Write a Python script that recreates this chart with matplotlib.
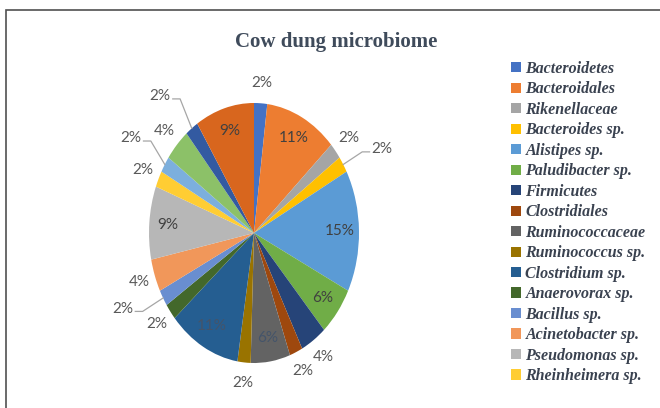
import numpy as np
import matplotlib
matplotlib.use("Agg")
import matplotlib.pyplot as plt
from matplotlib.patches import Patch, Rectangle

title = "Cow dung microbiome"

# legend names (the chart only lists the first 16 slices)
taxa = ["Bacteroidetes", "Bacteroidales", "Rikenellaceae", "Bacteroides sp.",
        "Alistipes sp.", "Paludibacter sp.", "Firmicutes", "Clostridiales",
        "Ruminococcaceae", "Ruminococcus sp.", "Clostridium sp.", "Anaerovorax sp.",
        "Bacillus sp.", "Acinetobacter sp.", "Pseudomonas sp.", "Rheinheimera sp."]

# slice percentages, clockwise from 12 o'clock
shares = [2, 11, 2, 2, 15, 6, 4, 2, 6, 2, 11, 2, 2, 4, 9, 2, 2, 4, 2, 9]

# excel office palette incl. the darker / lighter repeats
slice_colors = ["#4472C4", "#ED7D31", "#A5A5A5", "#FFC000", "#5B9BD5", "#70AD47",
                "#264478", "#9E480E", "#636363", "#997300", "#255E91", "#43682B",
                "#698ED0", "#F1975A", "#B7B7B7", "#FFCD33", "#7CAFDD", "#8CC168",
                "#335AA1", "#D8661E"]

# labels pushed further out with a leader line, and their angular nudge (deg, ccw)
leader_nudge = {3: -4, 12: -5, 16: 0, 18: 4}
# inside labels drawn in slate blue (on dark slices)
slate_idx = [8, 10]

W, H = 660, 408
fig = plt.figure(figsize=(W / 100, H / 100), dpi=100)

# pie centre (254, 233) px, radii 105 x 130 px
cx, cy, rx, ry = 254, 233, 105, 130
Lx, Ly = 1.5, 1.35
ax = fig.add_axes([(cx - Lx * rx) / W, (H - cy - Ly * ry) / H,
                   2 * Lx * rx / W, 2 * Ly * ry / H])

wedges, _ = ax.pie(shares, colors=slice_colors, startangle=90,
                   counterclock=False, radius=1.0,
                   wedgeprops=dict(linewidth=0))
ax.set_aspect('auto')
ax.set_xlim(-Lx, Lx)
ax.set_ylim(-Ly, Ly)
ax.axis('off')

lab_font = dict(family=['Lato', 'DejaVu Sans'], fontsize=11)
for i, w in enumerate(wedges):
    mid = np.deg2rad((w.theta1 + w.theta2) / 2)
    ux, uy = np.cos(mid), np.sin(mid)
    txt = f"{shares[i]}%"
    if shares[i] > 4:
        col = '#44546A' if i in slate_idx else '#404040'
        ax.text(0.82 * ux, 0.82 * uy, txt, ha='center', va='center', color=col, **lab_font)
    elif i in leader_nudge:
        a = mid + np.deg2rad(leader_nudge[i])
        lx, ly = 1.38 * np.cos(a), 1.38 * np.sin(a)
        s = 1 if ux > 0 else -1
        ax.text(lx, ly, txt, ha='center', va='center', color='#595959', **lab_font)
        x0 = lx - s * 0.12
        x1 = x0 - s * 0.07
        ax.plot([x0, x1, ux], [ly - 0.02, ly - 0.02, uy], color='#A6A6A6', lw=0.9,
                clip_on=False)
    else:
        ax.text(1.16 * ux, 1.16 * uy, txt, ha='center', va='center', color='#595959',
                **lab_font)

fig.text(336 / W, 1 - 42 / H, title, ha='center', va='center', fontsize=15,
         fontweight='bold', family='Liberation Serif', color='#3F4B5B')

handles = [Patch(facecolor=slice_colors[i], edgecolor='none') for i in range(len(taxa))]
leg = fig.legend(handles, taxa, loc='upper left', bbox_to_anchor=(503 / W, 1 - 53 / H),
                 frameon=False, borderpad=0, handlelength=0.6, handleheight=0.6,
                 handletextpad=0.3, labelspacing=0.28,
                 prop=dict(family='Liberation Serif', style='italic', weight='bold', size=11.5))
for t in leg.get_texts():
    t.set_color('#3A4250')

# chart frame (right and bottom edges lie outside the picture)
fig.patches.append(Rectangle((6 / W, -0.1), 1.2, 1.1 - 10 / H, transform=fig.transFigure,
                             fill=False, edgecolor='#505050', lw=1.2))

fig.savefig("out.png", dpi=100)
